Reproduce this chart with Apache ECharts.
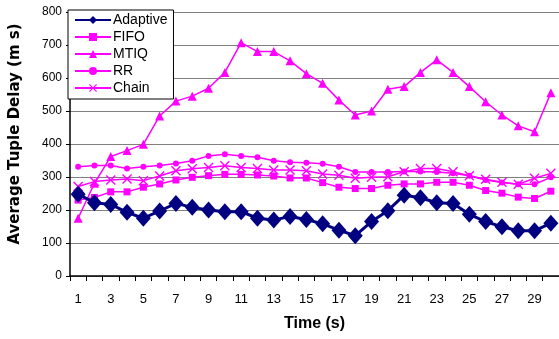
<!DOCTYPE html>
<html><head><meta charset="utf-8">
<script src="https://cdn.jsdelivr.net/npm/echarts@6/dist/echarts.min.js"></script>
<style>html,body{margin:0;padding:0;background:#fff}#c{width:559px;height:339px}</style>
</head><body><div id="c"></div>
<script>
const categories = ['1','2','3','4','5','6','7','8','9','10','11','12','13','14','15','16','17','18','19','20','21','22','23','24','25','26','27','28','29','30'];
const adaptive = [248,222,217,193,175,197,220,208,200,195,195,175,170,180,171,158,139,122,165,198,245,237,222,220,187,165,149,137,137,160];
const fifo = [230,238,255,255,269,279,291,299,304,308,308,306,303,297,297,283,269,265,265,275,279,279,284,284,275,259,251,239,235,257];
const mtiq = [175,281,362,380,399,485,530,545,569,617,707,680,680,652,613,584,533,488,500,566,574,617,655,617,574,528,488,455,437,555];
const rr = [331,335,335,326,331,335,341,349,364,369,364,360,349,345,343,340,331,315,315,315,317,317,315,311,304,291,283,278,278,299];
const chain = [271,286,291,294,289,303,319,325,329,334,329,326,321,321,319,309,305,296,299,301,316,326,326,316,304,293,284,278,296,311];

const MAG = '#ff00ff';
const NARROW = '"Liberation Sans Narrow", "Liberation Sans", Arial, sans-serif';
const crossPath = 'path://M0,1L1,0L5,4L9,0L10,1L6,5L10,9L9,10L5,6L1,10L0,9L4,5Z';
const chart = echarts.init(document.getElementById('c'), null, {renderer:'canvas'});
function magSeries(name, data, symbol, size){
  return {name, type:'line', data, symbol, symbolSize:size, showAllSymbol:true,
    lineStyle:{color:MAG,width:1.5}, itemStyle:{color:MAG}, z:2, animation:false};
}
chart.setOption({
  animation:false,
  textStyle:{fontFamily:'Liberation Sans, Arial, sans-serif'},
  grid:{left:65, top:12, width:497, height:264, containLabel:false},
  legend:{
    orient:'vertical', left:68, top:10, padding:[3,6,4,6], itemGap:3,
    itemWidth:36, itemHeight:10,
    backgroundColor:'#fff', borderColor:'#000', borderWidth:1,
    textStyle:{fontSize:14, color:'#000', fontFamily:'Liberation Sans, Arial, sans-serif', padding:[0,0,0,-3]},
    data:['Adaptive','FIFO','MTIQ','RR','Chain']
  },
  xAxis:{
    type:'category', data:categories, boundaryGap:true,
    name:'Time (s)', nameLocation:'middle', nameGap:40,
    nameTextStyle:{fontSize:16, fontWeight:'bold', color:'#000', fontFamily:NARROW},
    axisLine:{lineStyle:{color:'#000', width:1.5}},
    axisTick:{show:true, interval:0, length:5, lineStyle:{color:'#000'}},
    axisLabel:{interval:1, fontSize:13, color:'#000', margin:17, fontFamily:NARROW},
    splitLine:{show:false}
  },
  yAxis:{
    type:'value', min:0, max:800, interval:100,
    name:'Average Tuple Delay (m s)', nameLocation:'middle', nameGap:47,
    nameTextStyle:{fontSize:15, fontWeight:'bold', color:'#000', fontFamily:'"DejaVu Sans", sans-serif', padding:[0,0,0,20]},
    axisLine:{show:true, lineStyle:{color:'#000', width:1.5}},
    axisTick:{show:true, length:4, lineStyle:{color:'#000'}},
    axisLabel:{fontSize:12, color:'#000', margin:8},
    splitLine:{show:true, lineStyle:{color:'#808080', width:1.2}}
  },
  series:[
    {name:'Adaptive', type:'line', data:adaptive, symbol:'diamond', symbolSize:[15,17], showAllSymbol:true,
      lineStyle:{color:'#000080', width:3}, itemStyle:{color:'#000080'}, z:5},
    magSeries('FIFO', fifo, 'rect', 7),
    magSeries('MTIQ', mtiq, 'triangle', 9),
    magSeries('RR', rr, 'circle', 6),
    magSeries('Chain', chain, crossPath, 10)
  ]
});
</script></body></html>
